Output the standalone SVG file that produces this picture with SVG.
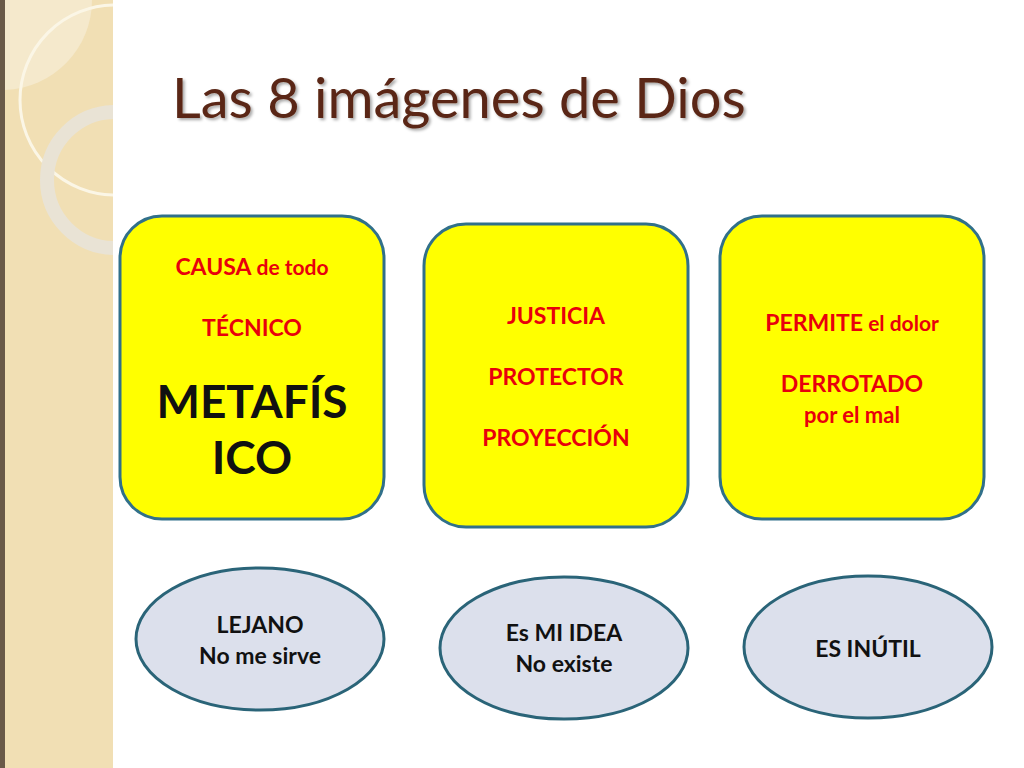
<svg xmlns="http://www.w3.org/2000/svg" width="1024" height="768" viewBox="0 0 1024 768">
<defs>
<style>
.box{fill:#ffff00;stroke:#31708a;stroke-width:3}
.ell{fill:#dce0ec;stroke:#2a6478;stroke-width:3}
.r{fill:#e8000c;font-family:Lato,"Open Sans",sans-serif;font-weight:bold;font-size:23px;text-anchor:middle}
.k{fill:#111;font-family:Lato,"Open Sans",sans-serif;font-weight:bold;font-size:23px;text-anchor:middle}
</style>
<filter id="sh"><feDropShadow dx="2" dy="2" stdDeviation="1.5" flood-color="#000" flood-opacity="0.35"/></filter>
<clipPath id="cs"><rect x="0" y="0" width="113" height="768"/></clipPath>
</defs>
<rect width="1024" height="768" fill="#fff"/>
<g id="strip" clip-path="url(#cs)">
<rect x="0" y="0" width="113" height="768" fill="#f1dfb4"/>
<rect x="0" y="0" width="5" height="768" fill="#6a5a48"/>
<path d="M5 0 H92 A90 90 0 0 1 5 90 Z" fill="#f5e9cc"/>
<circle cx="115" cy="100" r="95" fill="none" stroke="#fbf6e6" stroke-width="3"/>
<circle cx="115" cy="180" r="68" fill="none" stroke="#e9e3d5" stroke-width="14"/>
</g>
<text x="172" y="118" font-family="Lato,'Open Sans',sans-serif" font-size="56" fill="#5a2816" filter="url(#sh)">Las 8 imágenes de Dios</text>
<g id="box1"><rect class="box" x="120" y="216" width="264" height="303" rx="42"/>
<text class="r" x="252" y="275"><tspan>CAUSA</tspan><tspan style="font-size:21px"> de todo</tspan></text>
<text class="r" x="252" y="336">TÉCNICO</text>
<text class="k" x="252" y="418" style="font-size:46px">METAFÍS</text>
<text class="k" x="252" y="474" style="font-size:46px">ICO</text></g>
<g id="box2"><rect class="box" x="424" y="224" width="264" height="303" rx="42"/>
<text class="r" x="556" y="324">JUSTICIA</text>
<text class="r" x="556" y="385">PROTECTOR</text>
<text class="r" x="556" y="446">PROYECCIÓN</text></g>
<g id="box3"><rect class="box" x="720" y="216" width="264" height="303" rx="42"/>
<text class="r" x="852" y="331"><tspan>PERMITE</tspan><tspan style="font-size:21px"> el dolor</tspan></text>
<text class="r" x="852" y="392">DERROTADO</text>
<text class="r" x="852" y="423" style="font-size:22px">por el mal</text></g>
<g id="e1"><ellipse class="ell" cx="260" cy="639" rx="124" ry="71"/>
<text class="k" x="260" y="633">LEJANO</text>
<text class="k" x="260" y="664">No me sirve</text></g>
<g id="e2"><ellipse class="ell" cx="564" cy="648" rx="124" ry="71"/>
<text class="k" x="564" y="641">Es MI IDEA</text>
<text class="k" x="564" y="672">No existe</text></g>
<g id="e3"><ellipse class="ell" cx="868" cy="647" rx="124" ry="71"/>
<text class="k" x="868" y="657">ES INÚTIL</text></g>
<g id="connectors"/>
</svg>
